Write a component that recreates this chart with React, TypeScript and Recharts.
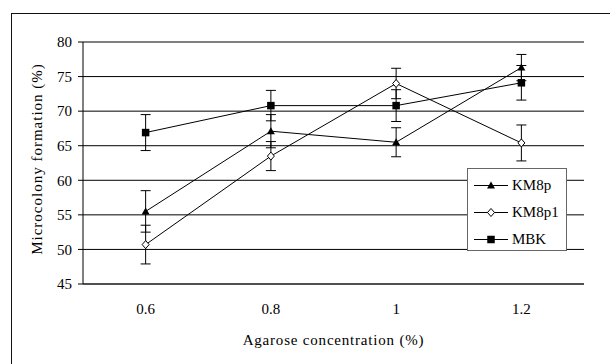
import { LineChart, Line, XAxis, YAxis, CartesianGrid, ErrorBar, Legend, Label, ReferenceLine } from 'recharts';

const serif = "'Liberation Serif', 'Times New Roman', serif";

// agarose concentration (%) categories
const concentrations = ['0.6', '0.8', '1', '1.2'];

// microcolony formation (%) and error bars per strain
const km8p = [55.5, 67.1, 65.5, 76.3];
const km8pErr = [3.0, 2.4, 2.1, 1.9];
const km8p1 = [50.7, 63.5, 74.0, 65.4];
const km8p1Err = [2.8, 2.1, 2.2, 2.6];
const mbk = [66.9, 70.8, 70.8, 74.1];
const mbkErr = [2.6, 2.2, 2.3, 2.5];

const yTicks = [45, 50, 55, 60, 65, 70, 75, 80];
const bandEdges = [0, 1, 2, 3, 4];

const data = concentrations.map((c, i) => ({
  c,
  km8p: km8p[i],
  km8pErr: km8pErr[i],
  km8p1: km8p1[i],
  km8p1Err: km8p1Err[i],
  mbk: mbk[i],
  mbkErr: mbkErr[i],
}));

const markerKind: Record<string, string> = { km8p: 'triangle', km8p1: 'diamond', mbk: 'square' };

function Marker({ kind, cx, cy }: { kind: string; cx: number; cy: number }) {
  if (kind === 'triangle') {
    return <polygon points={`${cx},${cy - 4} ${cx + 4},${cy + 3} ${cx - 4},${cy + 3}`} fill="#000" />;
  }
  if (kind === 'diamond') {
    return (
      <polygon
        points={`${cx},${cy - 4} ${cx + 3.5},${cy} ${cx},${cy + 4} ${cx - 3.5},${cy}`}
        fill="#fff"
        stroke="#000"
        strokeWidth={1}
      />
    );
  }
  return <rect x={cx - 3.75} y={cy - 3.75} width={7.5} height={7.5} fill="#000" />;
}

const dotFor = (kind: string) => (p: any) => (
  <Marker key={`${kind}-${p.index}`} kind={kind} cx={p.cx} cy={p.cy} />
);

const renderLegend = (props: any) => (
  <div
    style={{
      boxSizing: 'border-box',
      width: 100,
      height: 83,
      border: '1px solid #666',
      background: '#fff',
      paddingTop: 2.5,
    }}
  >
    {(props.payload || []).map((item: any) => (
      <div key={item.value} style={{ height: 27, display: 'flex', alignItems: 'center' }}>
        <svg width={44} height={27} style={{ display: 'block' }}>
          <line x1={6} x2={40} y1={13.5} y2={13.5} stroke="#000" strokeWidth={1} />
          <Marker kind={markerKind[item.dataKey]} cx={23} cy={13.5} />
        </svg>
        <span style={{ fontFamily: serif, fontSize: 15, color: '#000' }}>{item.value}</span>
      </div>
    ))}
  </div>
);

export default function App() {
  return (
    <div style={{ position: 'fixed', left: 0, top: 0, width: 610, height: 364, overflow: 'hidden', background: '#fff' }}>
      <div
        style={{
          position: 'absolute',
          left: 11,
          top: 13,
          width: 700,
          height: 500,
          borderLeft: '1.5px solid #111',
          borderTop: '1.5px solid #111',
        }}
      />
      <LineChart
        width={610}
        height={364}
        data={data}
        margin={{ top: 42, right: 26, bottom: 18, left: 23 }}
        style={{ position: 'absolute', left: 0, top: 0 }}
      >
        <CartesianGrid xAxisId="b_cat" yAxisId="left" vertical={false} stroke="#000" strokeWidth={1} />
        <XAxis
          xAxisId="b_cat"
          dataKey="c"
          scale="band"
          height={61}
          axisLine={false}
          tickLine={false}
          tickSize={0}
          tickMargin={18}
          tick={{ fill: '#000', fontSize: 15, fontFamily: serif }}
        >
          <Label
            value="Agarose concentration (%)"
            position="insideBottom"
            offset={1}
            style={{ fill: '#000', fontSize: 15, fontFamily: serif, letterSpacing: 0.8 }}
          />
        </XAxis>
        <XAxis
          xAxisId="a_edges"
          type="number"
          domain={[0, 4]}
          ticks={bandEdges}
          tick={false}
          tickSize={5}
          height={1}
          axisLine={{ stroke: '#222' }}
          tickLine={{ stroke: '#222' }}
        />
        <YAxis
          yAxisId="left"
          domain={[45, 80]}
          ticks={yTicks}
          width={60}
          tickSize={5}
          tickMargin={6}
          axisLine={{ stroke: '#000' }}
          tickLine={{ stroke: '#000' }}
          tick={{ fill: '#000', fontSize: 15, fontFamily: serif }}
        >
          <Label
            value="Microcolony formation (%)"
            angle={-90}
            position="insideLeft"
            offset={14}
            dy={-4}
            style={{ textAnchor: 'middle', fill: '#000', fontSize: 15, fontFamily: serif, letterSpacing: 1 }}
          />
        </YAxis>
        <ReferenceLine xAxisId="a_edges" yAxisId="left" x={4} stroke="#888" strokeWidth={1} />
        <Legend
          layout="vertical"
          align="center"
          verticalAlign="middle"
          wrapperStyle={{ left: 467, top: 168, width: 100, height: 83 }}
          content={renderLegend}
        />
        <Line
          xAxisId="b_cat"
          yAxisId="left"
          dataKey="km8p"
          name="KM8p"
          stroke="#000"
          strokeWidth={1}
          dot={dotFor('triangle')}
          activeDot={false}
          isAnimationActive={false}
        >
          <ErrorBar dataKey="km8pErr" width={5} stroke="#000" strokeWidth={1} direction="y" />
        </Line>
        <Line
          xAxisId="b_cat"
          yAxisId="left"
          dataKey="km8p1"
          name="KM8p1"
          stroke="#000"
          strokeWidth={1}
          dot={dotFor('diamond')}
          activeDot={false}
          isAnimationActive={false}
        >
          <ErrorBar dataKey="km8p1Err" width={5} stroke="#000" strokeWidth={1} direction="y" />
        </Line>
        <Line
          xAxisId="b_cat"
          yAxisId="left"
          dataKey="mbk"
          name="MBK"
          stroke="#000"
          strokeWidth={1}
          dot={dotFor('square')}
          activeDot={false}
          isAnimationActive={false}
        >
          <ErrorBar dataKey="mbkErr" width={5} stroke="#000" strokeWidth={1} direction="y" />
        </Line>
      </LineChart>
    </div>
  );
}
